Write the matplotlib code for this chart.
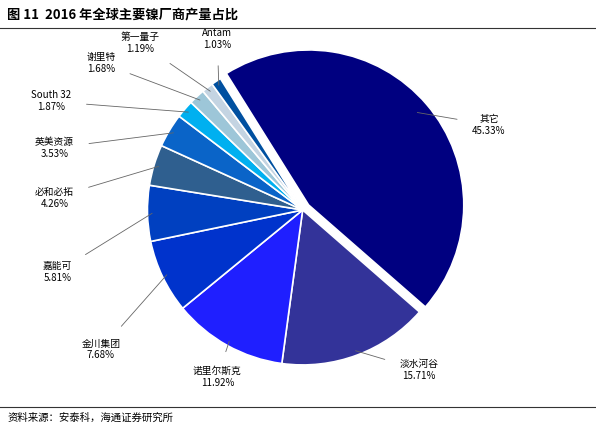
import numpy as np
import matplotlib
matplotlib.use("Agg")
import matplotlib.pyplot as plt

plt.rcParams['font.family'] = ['Noto Sans CJK SC', 'DejaVu Sans']

names = ['其它', '淡水河谷', '诺里尔斯克', '金川集团', '嘉能可', '必和必拓',
         '英美资源', 'South 32', '谢里特', '第一量子', 'Antam']
shares = [45.33, 15.71, 11.92, 7.68, 5.81, 4.26, 3.53, 1.87, 1.68, 1.19, 1.03]
colors = ['#000080', '#333399', '#1f1fff', '#0033cc', '#0040c0', '#2f5f8f',
          '#0a64c8', '#00b0f0', '#9dc6d8', '#c4d4e2', '#0050a0']
explode = [0.05] + [0] * 10

# label positions (pie radius = 1)
label_pos = [(1.20, 0.55), (0.75, -1.03), (-0.55, -1.08), (-1.30, -0.90),
             (-1.58, -0.40), (-1.60, 0.08), (-1.60, 0.40), (-1.62, 0.70),
             (-1.30, 0.95), (-1.05, 1.08), (-0.55, 1.10)]

fig = plt.figure(figsize=(5.96, 4.26), dpi=100)
fig.text(0.012, 0.965, '图 11  2016 年全球主要镍厂商产量占比', fontsize=9.5,
         fontweight='bold', va='center')
fig.add_artist(plt.Line2D([0.0, 1.0], [0.935, 0.935], color='#333333', lw=0.8))
fig.add_artist(plt.Line2D([0.0, 1.0], [0.045, 0.045], color='#333333', lw=0.8))
fig.text(0.012, 0.02, '资料来源：安泰科，海通证券研究所', fontsize=7.5, va='center')

ax = fig.add_axes([0, 20 / 426, 1, 380 / 426])
wedges, _ = ax.pie(shares, colors=colors, explode=explode, startangle=122,
                   counterclock=False, radius=1.0,
                   wedgeprops=dict(edgecolor='white', linewidth=1.2))

for w, n, s, (tx, ty) in zip(wedges, names, shares, label_pos):
    ang = np.deg2rad((w.theta1 + w.theta2) / 2)
    x, y = np.cos(ang), np.sin(ang)
    ax.annotate(f'{n}\n{s:.2f}%', xy=(0.97 * x, 0.97 * y), xytext=(tx, ty),
                ha='center', va='center', fontsize=7, linespacing=1.25,
                arrowprops=dict(arrowstyle='-', color='#666666', lw=0.6,
                                shrinkA=9, shrinkB=0))
ax.set_aspect('auto')
ax.set_xlim(-1.95, 1.89)
ax.set_ylim(-1.265, 1.187)
ax.axis('off')
fig.savefig('out.png', dpi=100)
